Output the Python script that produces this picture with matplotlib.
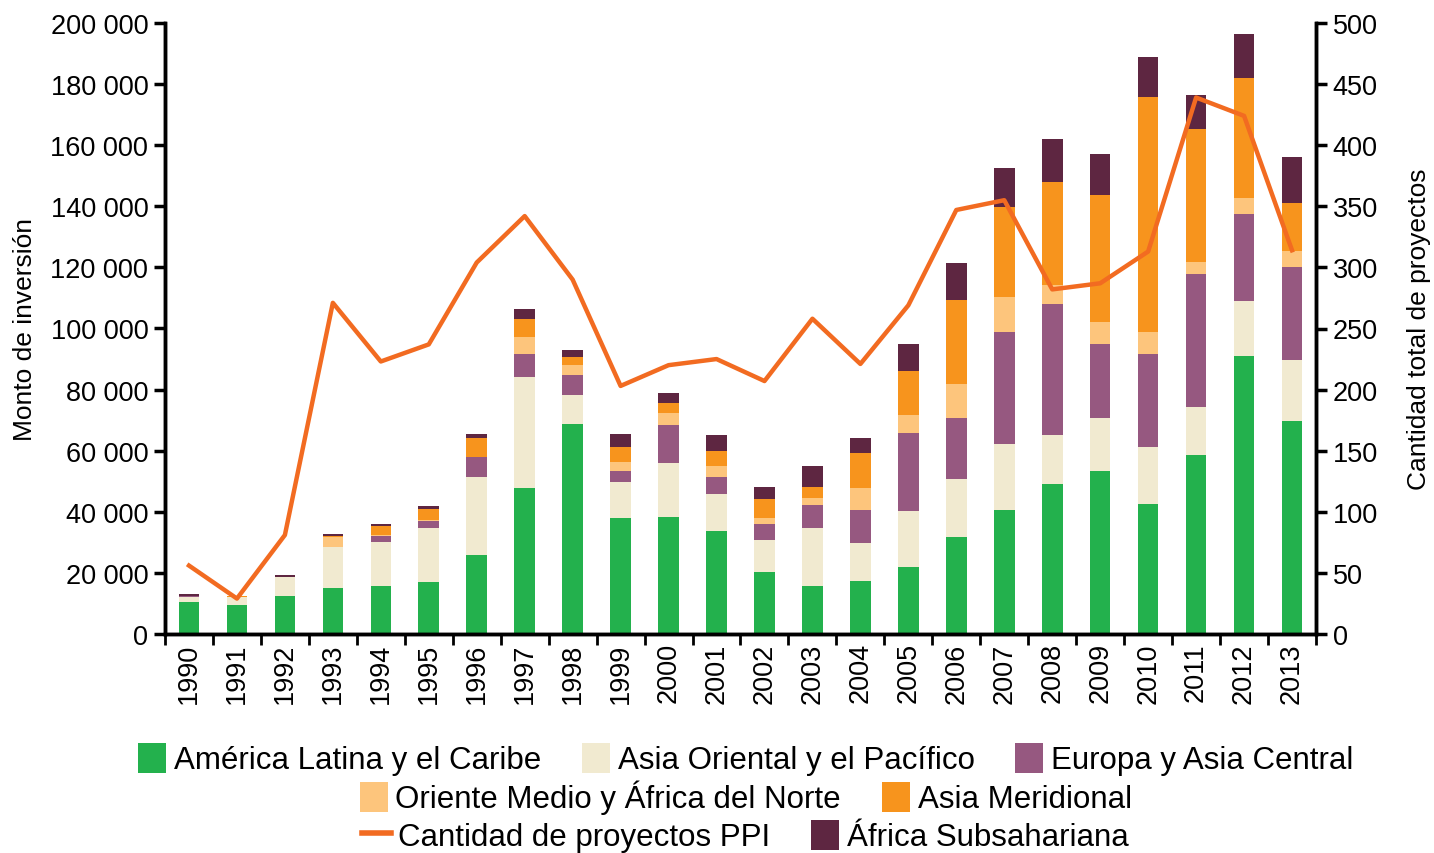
import numpy as np
import matplotlib
matplotlib.use("Agg")
import matplotlib.pyplot as plt
from matplotlib.patches import Patch
from matplotlib.lines import Line2D
from matplotlib.ticker import FuncFormatter, MultipleLocator

plt.rcParams["font.family"] = ["Liberation Sans", "DejaVu Sans"]

years = [str(y) for y in range(1990, 2014)]

# investment by region (USD millions)
latam = [10500, 9500, 12500, 15000, 15800, 16900, 25900, 47700, 68700, 37900, 38200, 33600,
         20200, 15600, 17300, 22000, 31900, 40500, 49000, 53500, 42500, 58600, 91000, 69800]
east_asia = [1600, 2500, 6000, 13400, 14400, 17700, 25600, 36300, 9600, 11800, 17700, 12200,
             10600, 19000, 12500, 18400, 18800, 21700, 16000, 17300, 18800, 15800, 17900, 19800]
europe = [500, 0, 300, 0, 2000, 2500, 6500, 7800, 6500, 3800, 12500, 5700,
          5200, 7700, 10700, 25500, 20100, 36700, 43000, 24000, 30300, 43300, 28600, 30400]
mena = [0, 0, 0, 3200, 300, 300, 0, 5500, 3300, 2900, 3800, 3400,
        1900, 2100, 7200, 5800, 11100, 11500, 6200, 7400, 7300, 4200, 5200, 5500]
south_asia = [0, 300, 0, 600, 2900, 3500, 6000, 5800, 2500, 4700, 3300, 4900,
              6300, 3600, 11400, 14500, 27500, 29400, 33700, 41400, 77000, 43400, 39400, 15500]
ssa = [600, 0, 400, 600, 600, 1100, 1500, 3300, 2400, 4400, 3500, 5300,
       4000, 6900, 4900, 8700, 12100, 12600, 14200, 13600, 13100, 11200, 14200, 15200]

# number of PPI projects
projects = [56, 29, 81, 271, 223, 237, 304, 342, 290, 203, 220, 225,
            207, 258, 221, 269, 347, 355, 282, 287, 313, 439, 424, 314]

series = [
    ("América Latina y el Caribe", latam, "#23b14d"),
    ("Asia Oriental y el Pacífico", east_asia, "#f1ead0"),
    ("Europa y Asia Central", europe, "#965880"),
    ("Oriente Medio y África del Norte", mena, "#fdc57c"),
    ("Asia Meridional", south_asia, "#f7941d"),
    ("África Subsahariana", ssa, "#5e2641"),
]
line_color = "#f26b21"

fig = plt.figure(figsize=(14.34, 8.54), dpi=100)
ax = fig.add_axes([165 / 1434, 1 - 635 / 854, (1316 - 165) / 1434, (635 - 24) / 854])
ax2 = ax.twinx()

x = np.arange(len(years))
bottom = np.zeros(len(years))
for name, vals, col in series:
    vals = np.array(vals, dtype=float)
    ax.bar(x, vals, 0.43, bottom=bottom, color=col, edgecolor="none", zorder=2)
    bottom += vals

ax2.plot(x, projects, color=line_color, lw=3.2, zorder=3)

ax.set_xlim(-0.5, len(years) - 0.5)
ax.set_ylim(0, 200000)
ax2.set_ylim(0, 500)
ax.yaxis.set_major_locator(MultipleLocator(20000))
ax2.yaxis.set_major_locator(MultipleLocator(50))
ax.yaxis.set_major_formatter(FuncFormatter(lambda v, p: f"{int(v):,}".replace(",", " ")))

ax.set_xticks(x)
ax.set_xticklabels(years, rotation=90, fontsize=19.5)
ax.set_xticks(np.arange(-0.5, len(years)), minor=True)
ax.tick_params(axis="x", which="major", length=0, pad=6)
ax.tick_params(axis="x", which="minor", length=8, width=2)
ax.tick_params(axis="y", labelsize=19.5, length=8, width=2.5, pad=4)
ax2.tick_params(axis="y", labelsize=19.5, length=8, width=2.5, pad=4)

for a in (ax, ax2):
    a.spines["top"].set_visible(False)
    for s in ("left", "right", "bottom"):
        a.spines[s].set_linewidth(2.5)

ax.set_ylabel("Monto de inversión", fontsize=19)
ax2.set_ylabel("Cantidad total de proyectos", fontsize=19)
ax.yaxis.set_label_coords(-0.111, 0.5)
ax2.yaxis.set_label_coords(1.079, 0.5)

handles = {name: Patch(facecolor=col, edgecolor="none") for name, _, col in series}
line_handle = Line2D([0], [0], color=line_color, lw=4)

rows = [
    ["América Latina y el Caribe", "Asia Oriental y el Pacífico", "Europa y Asia Central"],
    ["Oriente Medio y África del Norte", "Asia Meridional"],
    ["Cantidad de proyectos PPI", "África Subsahariana"],
]
row_y = [1 - 760 / 854, 1 - 798 / 854, 1 - 837 / 854]
for labels, yy in zip(rows, row_y):
    hs = [line_handle if l == "Cantidad de proyectos PPI" else handles[l] for l in labels]
    fig.legend(hs, labels, loc="center", bbox_to_anchor=(0.52, yy), ncol=len(labels),
               frameon=False, fontsize=22.5, handlelength=0.9, handleheight=1.1,
               handletextpad=0.25, columnspacing=1.3, borderpad=0)

fig.savefig("out.png", dpi=100)
